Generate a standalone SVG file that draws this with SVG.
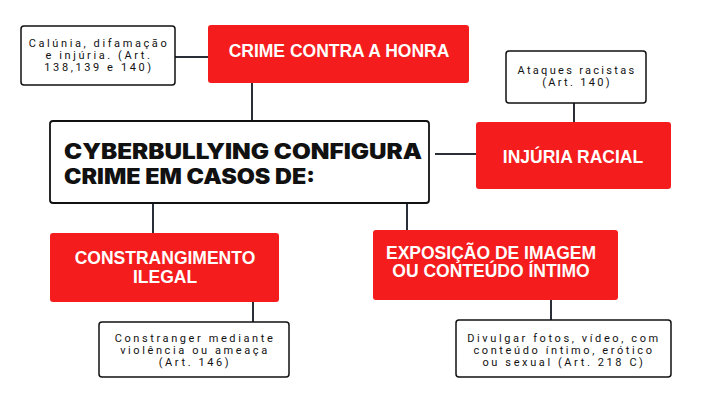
<svg xmlns="http://www.w3.org/2000/svg" width="711" height="400" viewBox="0 0 711 400">
<style>
.red{fill:#F41C1C;}
.note{fill:#fff;stroke:#111;stroke-width:1.5;}
.main{fill:#fff;stroke:#111;stroke-width:1.8;}
.rt{font-family:"Liberation Sans",Arial,sans-serif;font-weight:bold;font-size:17.5px;fill:#fff;text-anchor:middle;}
.nt{font-family:Roboto,"Liberation Sans",sans-serif;font-size:11px;fill:#111;text-anchor:middle;letter-spacing:2.6px;}
.mt{font-family:Inter,"Liberation Sans",sans-serif;font-weight:900;font-size:21px;fill:#111;}
.conn line{stroke:#2a2e38;stroke-width:2;}
</style>
<rect width="711" height="400" fill="#fff"/>
<g class="conn" id="connectors">
<line x1="175" y1="57" x2="208" y2="57"/>
<line x1="252" y1="83" x2="252" y2="121"/>
<line x1="435" y1="154" x2="476" y2="154"/>
<line x1="574" y1="103" x2="574" y2="122"/>
<line x1="153" y1="203" x2="153" y2="233"/>
<line x1="407" y1="203" x2="407" y2="230"/>
<line x1="253" y1="302" x2="253" y2="322"/>
<line x1="551" y1="300" x2="551" y2="320"/>
</g>
<g id="main">
<rect class="main" x="50" y="121" width="379" height="82" rx="3"/>
<text class="mt" x="64" y="158.5" textLength="358" lengthAdjust="spacingAndGlyphs">CYBERBULLYING  CONFIGURA</text>
<text class="mt" x="64" y="183.5" textLength="251" lengthAdjust="spacingAndGlyphs">CRIME EM CASOS DE:</text>
</g>
<g id="honra">
<rect class="red" x="208" y="25" width="261" height="58" rx="3"/>
<text class="rt" x="339" y="57">CRIME CONTRA A HONRA</text>
</g>
<g id="honra-note">
<rect class="note" x="21" y="26" width="154" height="59" rx="3"/>
<text class="nt" x="99" y="47">Calúnia, difamação</text>
<text class="nt" x="99" y="59">e injúria. (Art.</text>
<text class="nt" x="99" y="71">138,139 e 140)</text>
</g>
<g id="racial">
<rect class="red" x="476" y="122" width="195" height="67" rx="3"/>
<text class="rt" x="573" y="163">INJÚRIA RACIAL</text>
</g>
<g id="racial-note">
<rect class="note" x="506" y="51" width="140" height="52" rx="3"/>
<text class="nt" x="577" y="74" style="letter-spacing:2.3px">Ataques racistas</text>
<text class="nt" x="577" y="86" style="letter-spacing:2.3px">(Art. 140)</text>
</g>
<g id="constrangimento">
<rect class="red" x="50" y="233" width="229" height="69" rx="3"/>
<text class="rt" x="165" y="264">CONSTRANGIMENTO</text>
<text class="rt" x="165" y="283">ILEGAL</text>
</g>
<g id="constrangimento-note">
<rect class="note" x="99" y="322" width="190" height="55" rx="3"/>
<text class="nt" x="195" y="342">Constranger mediante</text>
<text class="nt" x="195" y="354">violência ou ameaça</text>
<text class="nt" x="195" y="366">(Art. 146)</text>
</g>
<g id="exposicao">
<rect class="red" x="373" y="230" width="245" height="70" rx="3"/>
<text class="rt" x="491" y="259">EXPOSIÇÃO DE IMAGEM</text>
<text class="rt" x="491" y="277">OU CONTEÚDO ÍNTIMO</text>
</g>
<g id="exposicao-note">
<rect class="note" x="456" y="320" width="215" height="57" rx="3"/>
<text class="nt" x="564" y="342">Divulgar fotos, vídeo, com</text>
<text class="nt" x="564" y="354">conteúdo íntimo, erótico</text>
<text class="nt" x="564" y="366">ou sexual (Art. 218 C)</text>
</g>
</svg>
